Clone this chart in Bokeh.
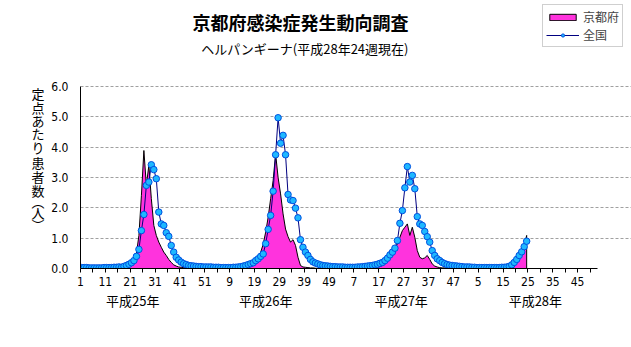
import numpy as np
from bokeh.plotting import figure
from bokeh.models import (Range1d, FixedTicker, Label, Legend, LegendItem,
                          NumeralTickFormatter, LinearAxis)
from bokeh.embed import file_html
from bokeh.resources import INLINE

# ---------------- data ----------------
title_text = "京都府感染症発生動向調査"
subtitle_text = "ヘルパンギーナ(平成28年24週現在)"
y_label_chars = ["定", "点", "あ", "た", "り", "患", "者", "数", "︵", "人", "︶"]
year_labels = ["平成25年", "平成26年", "平成27年", "平成28年"]
series_names = ["京都府", "全国"]
weeks_per_year = 52
y_ticks = [0, 1, 2, 3, 4, 5, 6]

# 京都府 (per-sentinel reports), weeks 1-52 of each year
kyoto_h25 = [0.00, 0.02, 0.00, 0.00, 0.01, 0.00, 0.00, 0.02, 0.00, 0.01,
             0.02, 0.00, 0.03, 0.02, 0.03, 0.05, 0.05, 0.08, 0.10, 0.12,
             0.18, 0.22, 0.49, 1.09, 2.40, 3.89, 2.74, 3.40, 2.30, 1.42,
             1.09, 0.87, 0.70, 0.54, 0.43, 0.30, 0.20, 0.12, 0.08, 0.05,
             0.04, 0.03, 0.02, 0.02, 0.01, 0.01, 0.00, 0.01, 0.00, 0.01,
             0.00, 0.00]
kyoto_h26 = [0.00, 0.01, 0.00, 0.00, 0.01, 0.00, 0.00, 0.01, 0.00, 0.01,
             0.02, 0.01, 0.02, 0.04, 0.06, 0.09, 0.13, 0.18, 0.25, 0.32,
             0.54, 0.80, 1.20, 1.69, 2.30, 2.90, 3.78, 3.00, 2.46, 1.80,
             1.30, 1.05, 0.87, 0.95, 0.76, 0.37, 0.10, 0.05, 0.04, 0.03,
             0.02, 0.02, 0.01, 0.00, 0.01, 0.00, 0.00, 0.01, 0.00, 0.00,
             0.01, 0.00]
kyoto_h27 = [0.00, 0.00, 0.01, 0.00, 0.00, 0.01, 0.00, 0.00, 0.01, 0.02,
             0.02, 0.03, 0.04, 0.05, 0.04, 0.05, 0.06, 0.10, 0.15, 0.26,
             0.40, 0.55, 0.68, 0.81, 1.03, 1.25, 1.36, 1.47, 1.09, 1.36,
             1.03, 0.59, 0.37, 0.32, 0.35, 0.43, 0.30, 0.15, 0.08, 0.05,
             0.03, 0.02, 0.02, 0.01, 0.01, 0.00, 0.01, 0.00, 0.00, 0.01,
             0.00, 0.00]
kyoto_h28 = [0.00, 0.00, 0.01, 0.00, 0.00, 0.00, 0.01, 0.00, 0.00, 0.01,
             0.00, 0.01, 0.01, 0.02, 0.02, 0.03, 0.04, 0.07, 0.12, 0.22,
             0.38, 0.55, 0.75, 1.09]

# 全国 (national), weeks 1-52 of each year
national_h25 = [0.03, 0.03, 0.03, 0.02, 0.02, 0.02, 0.02, 0.02, 0.02, 0.03,
                0.03, 0.03, 0.03, 0.04, 0.04, 0.05, 0.04, 0.07, 0.10, 0.14,
                0.19, 0.26, 0.40, 0.63, 1.25, 1.78, 2.74, 2.85, 3.42, 3.26,
                2.96, 1.86, 1.47, 1.42, 1.18, 1.06, 0.76, 0.54, 0.37, 0.28,
                0.21, 0.16, 0.13, 0.10, 0.09, 0.08, 0.07, 0.06, 0.06, 0.05,
                0.05, 0.05]
national_h26 = [0.05, 0.04, 0.04, 0.04, 0.03, 0.03, 0.03, 0.03, 0.03, 0.04,
                0.04, 0.05, 0.06, 0.08, 0.10, 0.13, 0.16, 0.19, 0.26, 0.32,
                0.40, 0.48, 0.82, 1.29, 1.75, 2.55, 3.75, 4.97, 4.13, 4.39,
                3.75, 2.44, 2.26, 2.24, 1.99, 1.67, 0.95, 0.70, 0.54, 0.43,
                0.30, 0.22, 0.18, 0.15, 0.12, 0.10, 0.09, 0.08, 0.07, 0.06,
                0.06, 0.05]
national_h27 = [0.05, 0.05, 0.04, 0.04, 0.04, 0.04, 0.04, 0.05, 0.05, 0.06,
                0.07, 0.08, 0.09, 0.10, 0.12, 0.14, 0.17, 0.20, 0.26, 0.34,
                0.45, 0.54, 0.67, 0.92, 1.49, 1.91, 2.66, 3.36, 2.85, 3.07,
                2.63, 1.71, 1.47, 1.42, 1.22, 1.05, 0.87, 0.59, 0.43, 0.32,
                0.26, 0.20, 0.16, 0.13, 0.11, 0.10, 0.09, 0.08, 0.07, 0.06,
                0.05, 0.05]
national_h28 = [0.05, 0.04, 0.04, 0.03, 0.03, 0.03, 0.03, 0.03, 0.03, 0.03,
                0.03, 0.03, 0.03, 0.04, 0.04, 0.05, 0.07, 0.12, 0.20, 0.30,
                0.43, 0.55, 0.72, 0.90]

# ---------------- layout constants ----------------
W, H = 631, 347
LEFT, BOTTOM = 80, 79
AXIS_RIGHT_PX = 597          # right end of the x axis
GRID_TOP_PX = 86             # pixel row of the 6.0 gridline
FRAME_W = W - LEFT
FRAME_H = H - BOTTOM
JP = "Noto Sans CJK JP"
NUM = "'Liberation Sans Narrow', 'DejaVu Sans Condensed', 'Liberation Sans', sans-serif"
year_label_pos = [21, 74.5, 129, 183]   # x position (in weeks) of the year captions
# pixel rows (from the top) of the stacked y-axis title characters
y_title_rows_px = [93.3, 106.7, 120, 133.3, 147, 161.7, 176, 190.3, 200.7, 211.7, 224]
AREA_FILL = "#FF33DD"
MARK_FILL = "#1EB8FF"
MARK_LINE = "#0050E0"
LINE_COL = "#000080"

kyoto = np.array(kyoto_h25 + kyoto_h26 + kyoto_h27 + kyoto_h28)
national = np.array(national_h25 + national_h26 + national_h27 + national_h28)
n_total = weeks_per_year * 4
y_max = y_ticks[-1]
xk = np.arange(len(kyoto)) + 0.5
xn = np.arange(len(national)) + 0.5

# the frame spans the whole area right of / above the axes so that the
# titles and the legend can live inside it
x_end = n_total * FRAME_W / (AXIS_RIGHT_PX - LEFT)
y_end = y_max * FRAME_H / (FRAME_H - GRID_TOP_PX)

p = figure(width=W, height=H, output_backend="svg", toolbar_location=None,
           x_range=Range1d(0, x_end), y_range=Range1d(0, y_end),
           min_border_left=LEFT, min_border_right=0,
           min_border_top=0, min_border_bottom=BOTTOM)
p.outline_line_color = None
p.background_fill_color = "white"
p.border_fill_color = "white"

# grid
p.xgrid.visible = False
p.ygrid.ticker = FixedTicker(ticks=y_ticks)
p.ygrid.grid_line_color = "#A0A0A0"
p.ygrid.grid_line_dash = "3 2"
p.ygrid.grid_line_width = 1
p.ygrid.bounds = (0, n_total)

# y axis
p.yaxis.ticker = FixedTicker(ticks=y_ticks)
p.yaxis.bounds = (0, y_max)
p.yaxis.formatter = NumeralTickFormatter(format="0.0")
p.yaxis.major_tick_out = 0
p.yaxis.major_tick_in = 0
p.yaxis.minor_tick_out = 0
p.yaxis.minor_tick_in = 0
p.yaxis.major_label_standoff = 12
p.yaxis.axis_line_color = "black"

# x axis (week numbers)
xt = list(range(0, n_total + 1, 5))
p.xaxis.ticker = FixedTicker(ticks=xt)
p.xaxis.bounds = (0, n_total)
p.xaxis.major_label_overrides = {t: (str(t % weeks_per_year + 1) if t % 10 == 0 else "") for t in xt}
p.xaxis.major_tick_out = 4
p.xaxis.major_tick_in = 0
p.xaxis.minor_tick_out = 0
p.xaxis.minor_tick_in = 0
p.xaxis.major_label_standoff = 4
p.xaxis.axis_line_color = "black"

for ax in (p.xaxis[0], p.yaxis[0]):
    ax.major_label_text_font = NUM
    ax.major_label_text_font_size = "12px"
    ax.major_label_text_color = "black"
    ax.major_tick_line_color = "black"

# second axis below: year captions
year_axis = LinearAxis(ticker=FixedTicker(ticks=year_label_pos),
                       major_label_overrides=dict(zip(year_label_pos, year_labels)),
                       axis_line_color=None, major_tick_line_color=None,
                       minor_tick_line_color=None,
                       major_tick_out=0, major_tick_in=0,
                       minor_tick_out=0, minor_tick_in=0,
                       major_label_standoff=2,
                       major_label_text_font=JP,
                       major_label_text_font_size="13px",
                       major_label_text_color="black")
p.add_layout(year_axis, "below")

# second axis on the left: upright, stacked y-axis title characters
y_title_pos = [round((FRAME_H - r) * y_end / FRAME_H, 4) for r in y_title_rows_px]
title_axis = LinearAxis(ticker=FixedTicker(ticks=y_title_pos),
                        major_label_overrides=dict(zip(y_title_pos, y_label_chars)),
                        axis_line_color=None, major_tick_line_color=None,
                        minor_tick_line_color=None,
                        major_tick_out=0, major_tick_in=0,
                        minor_tick_out=0, minor_tick_in=0,
                        major_label_standoff=4,
                        major_label_text_font=JP,
                        major_label_text_font_size="13px",
                        major_label_text_color="black")
p.add_layout(title_axis, "left")

# 京都府 area with outline
px = np.concatenate([[xk[0]], xk, [xk[-1]]])
py = np.concatenate([[0.0], kyoto, [0.0]])
r_area = p.patch(px, py, fill_color=AREA_FILL, line_color="black", line_width=1)

# 全国 line with markers
r_line = p.line(xn, national, line_color=LINE_COL, line_width=1)
r_mark = p.scatter(xn, national, size=6.5, marker="circle",
                   fill_color=MARK_FILL, line_color=MARK_LINE, line_width=1)

# legend (top right, box from x=542 to 622, y=7 to 47)
legend = Legend(items=[LegendItem(label=series_names[0], renderers=[r_area]),
                       LegendItem(label=series_names[1], renderers=[r_line, r_mark])],
                location=(542 - LEFT, FRAME_H - 47),
                orientation="vertical")
legend.label_text_font = JP
legend.label_text_font_size = "12px"
legend.glyph_width = 33
legend.glyph_height = 8
legend.label_height = 13
legend.label_standoff = 4
legend.padding = 3
legend.spacing = 1
legend.margin = 0
legend.border_line_color = "#A0A0A0"
legend.border_line_width = 1
legend.background_fill_color = "white"
legend.background_fill_alpha = 1
p.add_layout(legend)

# titles
p.add_layout(Label(x=300 - LEFT, y=FRAME_H - 21, x_units="screen", y_units="screen",
                   text=title_text, text_align="center", text_baseline="middle",
                   text_font=JP, text_font_size="18px", text_font_style="bold",
                   text_color="black"))
p.add_layout(Label(x=304 - LEFT, y=FRAME_H - 48, x_units="screen", y_units="screen",
                   text=subtitle_text, text_align="center", text_baseline="middle",
                   text_font=JP, text_font_size="13px", text_color="black"))

open("out.html", "w").write(file_html(p, INLINE))
